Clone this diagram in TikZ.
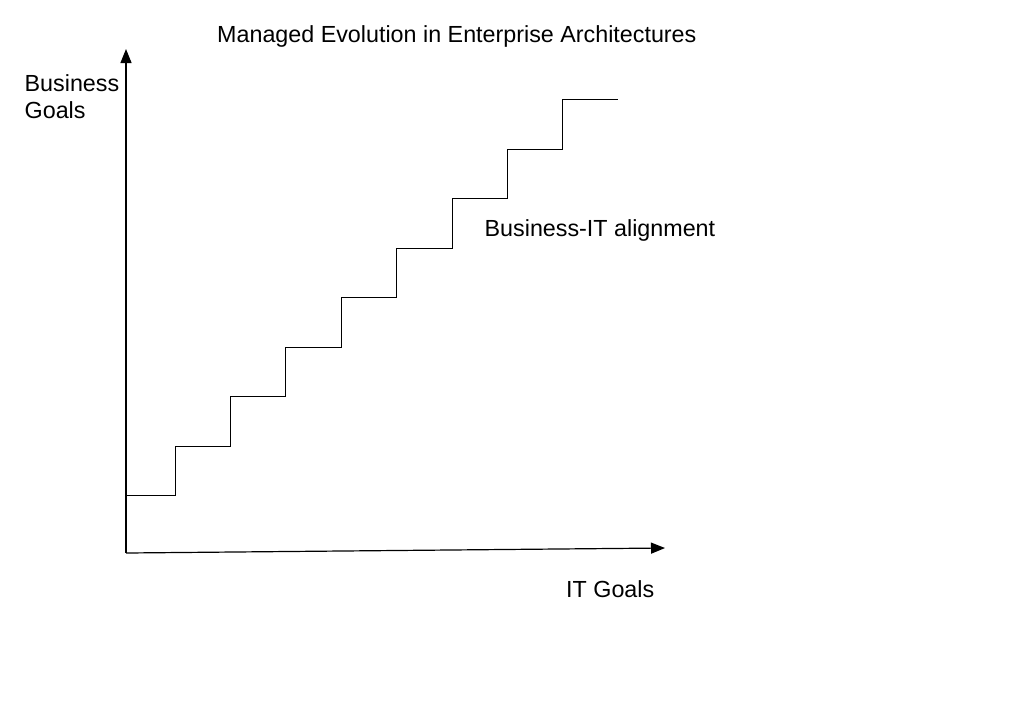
\documentclass[tikz,border=0pt]{standalone}
\usepackage{fontspec}
\setmainfont{Liberation Sans}
\usetikzlibrary{arrows.meta}
\tikzset{
    label text/.style={anchor=base west,inner sep=0pt,font=\fontsize{23.3}{26.6}\selectfont},
    axis/.style={line width=1.2pt,-{Triangle[length=14pt,width=11pt]}},
    stairs/.style={line width=1pt}
}
\begin{document}
\begin{tikzpicture}[x=1pt,y=-1pt]
        \useasboundingbox (0,0) rectangle (1024,724);
        \node[label text] (title) at (217,42.3) {Managed Evolution in Enterprise Architectures};
        \node[label text,align=left] (bgoals) at (24.5,118.3) {Business\\Goals};
        \node[label text] (itgoals) at (566,597.3) {IT Goals};
        \node[label text] (align) at (484.5,236.7) {Business-IT alignment};
        % axes
        \coordinate (origin) at (126,553);
        \coordinate (ytip) at (126,49);
        \coordinate (xtip) at (665,548);
        \draw[axis] (origin) -- (ytip);
        \draw[axis] (origin) -- (xtip);
        % staircase
        \coordinate (s0) at (126,495.5);
        \draw[stairs] (s0) -- (175,495.5)
            \foreach \i in {1,...,8} {
                -- ++(0,-49.5) -- ++(55.4,0)
            };
\end{tikzpicture}
\end{document}
